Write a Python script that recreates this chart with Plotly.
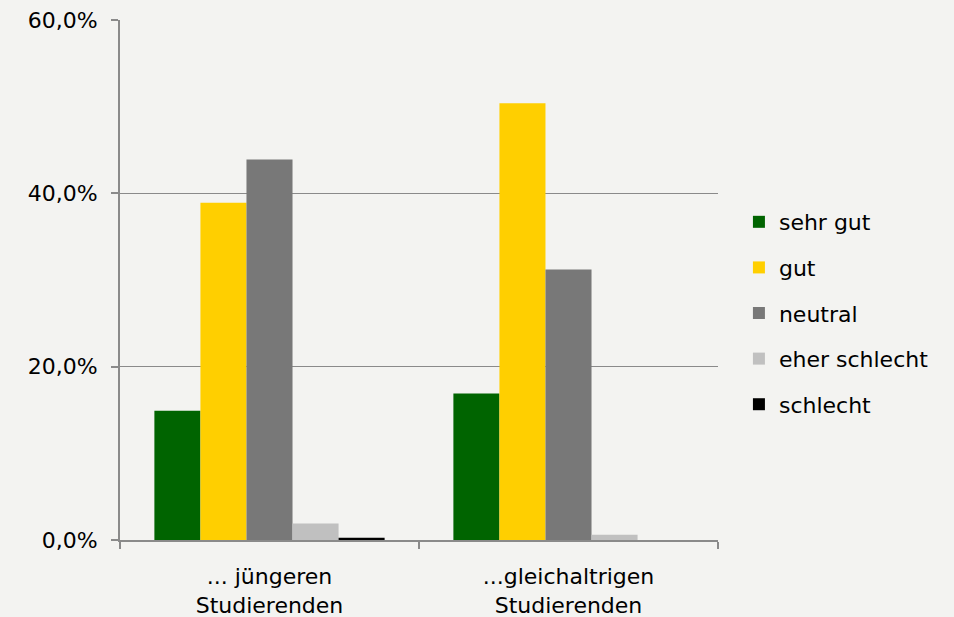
import plotly.graph_objects as go

# Categories and shares (in percent) per rating
categories = ["... jüngeren<br>Studierenden", "...gleichaltrigen<br>Studierenden"]
series_names = ["sehr gut", "gut", "neutral", "eher schlecht", "schlecht"]
sehr_gut = [14.9, 16.9]
gut = [38.9, 50.4]
neutral = [43.9, 31.2]
eher_schlecht = [1.9, 0.6]
schlecht = [0.25, 0.0]
y_ticks = [0, 20, 40, 60]
y_tick_labels = [f"{v:.1f}%".replace(".", ",") for v in y_ticks]

series_values = [sehr_gut, gut, neutral, eher_schlecht, schlecht]
colors = ["#006400", "#ffcf00", "#787878", "#c0c0c0", "#000000"]

BG = "#f3f3f1"
AXIS = "#8a8a8a"
FONT = "DejaVu Sans, Liberation Sans, Arial, sans-serif"
FS = 22

fig = go.Figure()
for name, vals, col in zip(series_names, series_values, colors):
    fig.add_trace(go.Bar(
        x=categories, y=vals, name=name, legendgroup=name,
        marker=dict(color=col, line=dict(width=0)),
    ))

fig.update_layout(
    width=954, height=617,
    paper_bgcolor=BG, plot_bgcolor=BG,
    margin=dict(l=120, r=236, t=20, b=77),
    barmode="group", bargap=0.23, bargroupgap=0,
    font=dict(family=FONT, size=FS, color="#000000"),
    showlegend=True,
    legend=dict(
        x=1.035, y=0.4365, xanchor="left", yanchor="middle",
        bgcolor="rgba(0,0,0,0)", tracegroupgap=14,
        font=dict(family=FONT, size=FS, color="#000000"),
        itemwidth=30,
    ),
)

fig.update_yaxes(
    range=[0, 60], tickvals=y_ticks, ticktext=y_tick_labels,
    showgrid=True, gridcolor=AXIS, gridwidth=1,
    showline=True, linecolor=AXIS, linewidth=2,
    ticks="outside", ticklen=7, tickcolor=AXIS, tickwidth=2,
    ticklabelstandoff=9, automargin=False,
    zeroline=False,
    tickfont=dict(family=FONT, size=FS, color="#000000"),
)
fig.update_xaxes(
    showline=True, linecolor=AXIS, linewidth=2,
    ticks="outside", ticklen=7, tickcolor=AXIS, tickwidth=2,
    tickson="boundaries",
    ticklabelstandoff=16, automargin=False,
    showgrid=False,
    tickfont=dict(family=FONT, size=FS, color="#000000"),
)

fig.write_html("out.html")
